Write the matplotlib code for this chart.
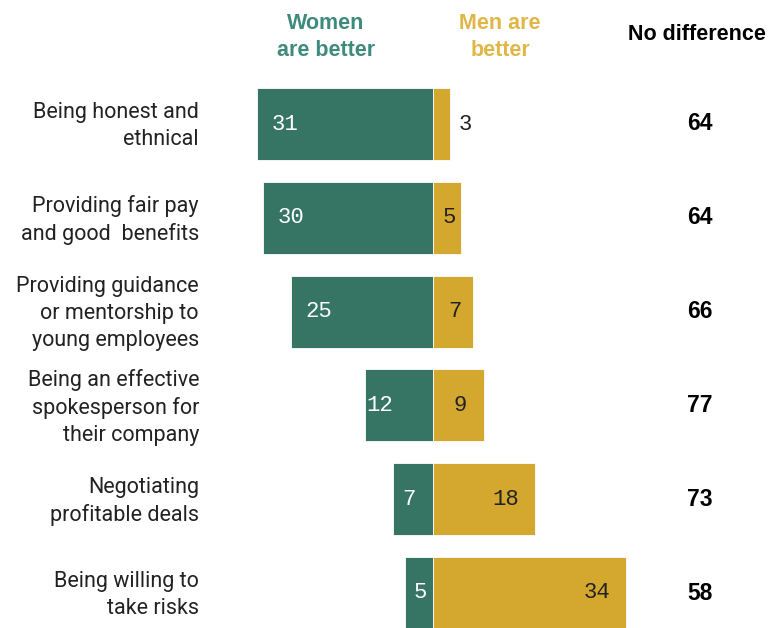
import matplotlib
matplotlib.use("Agg")
import matplotlib.pyplot as plt
import matplotlib.transforms as mtransforms

plt.rcParams['font.family'] = ['Roboto', 'DejaVu Sans']

categories = [
    "Being honest and\nethnical",
    "Providing fair pay\nand good  benefits",
    "Providing guidance\nor mentorship to\nyoung employees",
    "Being an effective\nspokesperson for\ntheir company",
    "Negotiating\nprofitable deals",
    "Being willing to\ntake risks",
]
women = [31, 30, 25, 12, 7, 5]
men = [3, 5, 7, 9, 18, 34]
no_diff = [64, 64, 66, 77, 73, 58]
headers = ["Women\nare better", "Men are\nbetter", "No difference"]

GREEN = "#367564"
GOLD = "#d4a72f"
GREEN_T = "#3e8a7c"
GOLD_T = "#e0b646"

W, H = 768, 628
fig = plt.figure(figsize=(W / 100, H / 100), dpi=100)
ax = fig.add_axes([0, 0, 1, 1])

zero_px, scale = 433, 5.68
ax.set_xlim(-zero_px / scale, (W - zero_px) / scale)
row0, step = 124, 93.8
ax.set_ylim((H - row0) / step, -row0 / step)
ax.axis("off")

ys = list(range(len(categories)))
bh = 72 / step
ax.barh(ys, [-w for w in women], height=bh, color=GREEN, edgecolor="white", linewidth=0.6)
ax.barh(ys, men, height=bh, color=GOLD, edgecolor="white", linewidth=0.6)

trans_lbl = mtransforms.blended_transform_factory(fig.transFigure, ax.transData)
for y, cat in zip(ys, categories):
    ax.text(199 / W, y + 0.02, cat, transform=trans_lbl, ha="right", va="center",
            fontsize=15.5, color="#222222", linespacing=1.35)

MONO = ["Liberation Mono", "DejaVu Sans Mono"]
VFS = 16
for y, w in zip(ys, women):
    if w >= 20:
        ax.text(-w + 2.6, y, str(w), ha="left", va="center", color="white",
                fontsize=VFS, family=MONO)
    else:
        ax.text(-w + 0.2 + (1.4 if w < 10 else 0), y, str(w), ha="left", va="center",
                color="white", fontsize=VFS, family=MONO)

for y, m in zip(ys, men):
    if m < 4:
        ax.text(m + 1.5, y, str(m), ha="left", va="center", color="#222222",
                fontsize=VFS, family=MONO)
    elif m < 15:
        ax.text(m / 2 + 0.3, y, str(m), ha="center", va="center", color="#222222",
                fontsize=VFS, family=MONO)
    else:
        ax.text(m - 2.8, y, str(m), ha="right", va="center", color="#222222",
                fontsize=VFS, family=MONO)

BOLD = ["Liberation Sans", "DejaVu Sans"]
nd_x = (700 - zero_px) / scale
for y, n in zip(ys, no_diff):
    ax.text(nd_x, y, str(n), ha="center", va="center", color="black",
            fontsize=16.5, fontweight="bold", family=BOLD)

ax.text(326 / W, 1 - 37 / H, headers[0], transform=fig.transFigure, ha="center", va="center",
        color=GREEN_T, fontsize=15.5, fontweight="bold", linespacing=1.35, family=BOLD)
ax.text(500 / W, 1 - 37 / H, headers[1], transform=fig.transFigure, ha="center", va="center",
        color=GOLD_T, fontsize=15.5, fontweight="bold", linespacing=1.35, family=BOLD)
ax.text(697 / W, 1 - 35 / H, headers[2], transform=fig.transFigure, ha="center", va="center",
        color="black", fontsize=15.5, fontweight="bold", family=BOLD)

fig.savefig("out.png", dpi=100)
